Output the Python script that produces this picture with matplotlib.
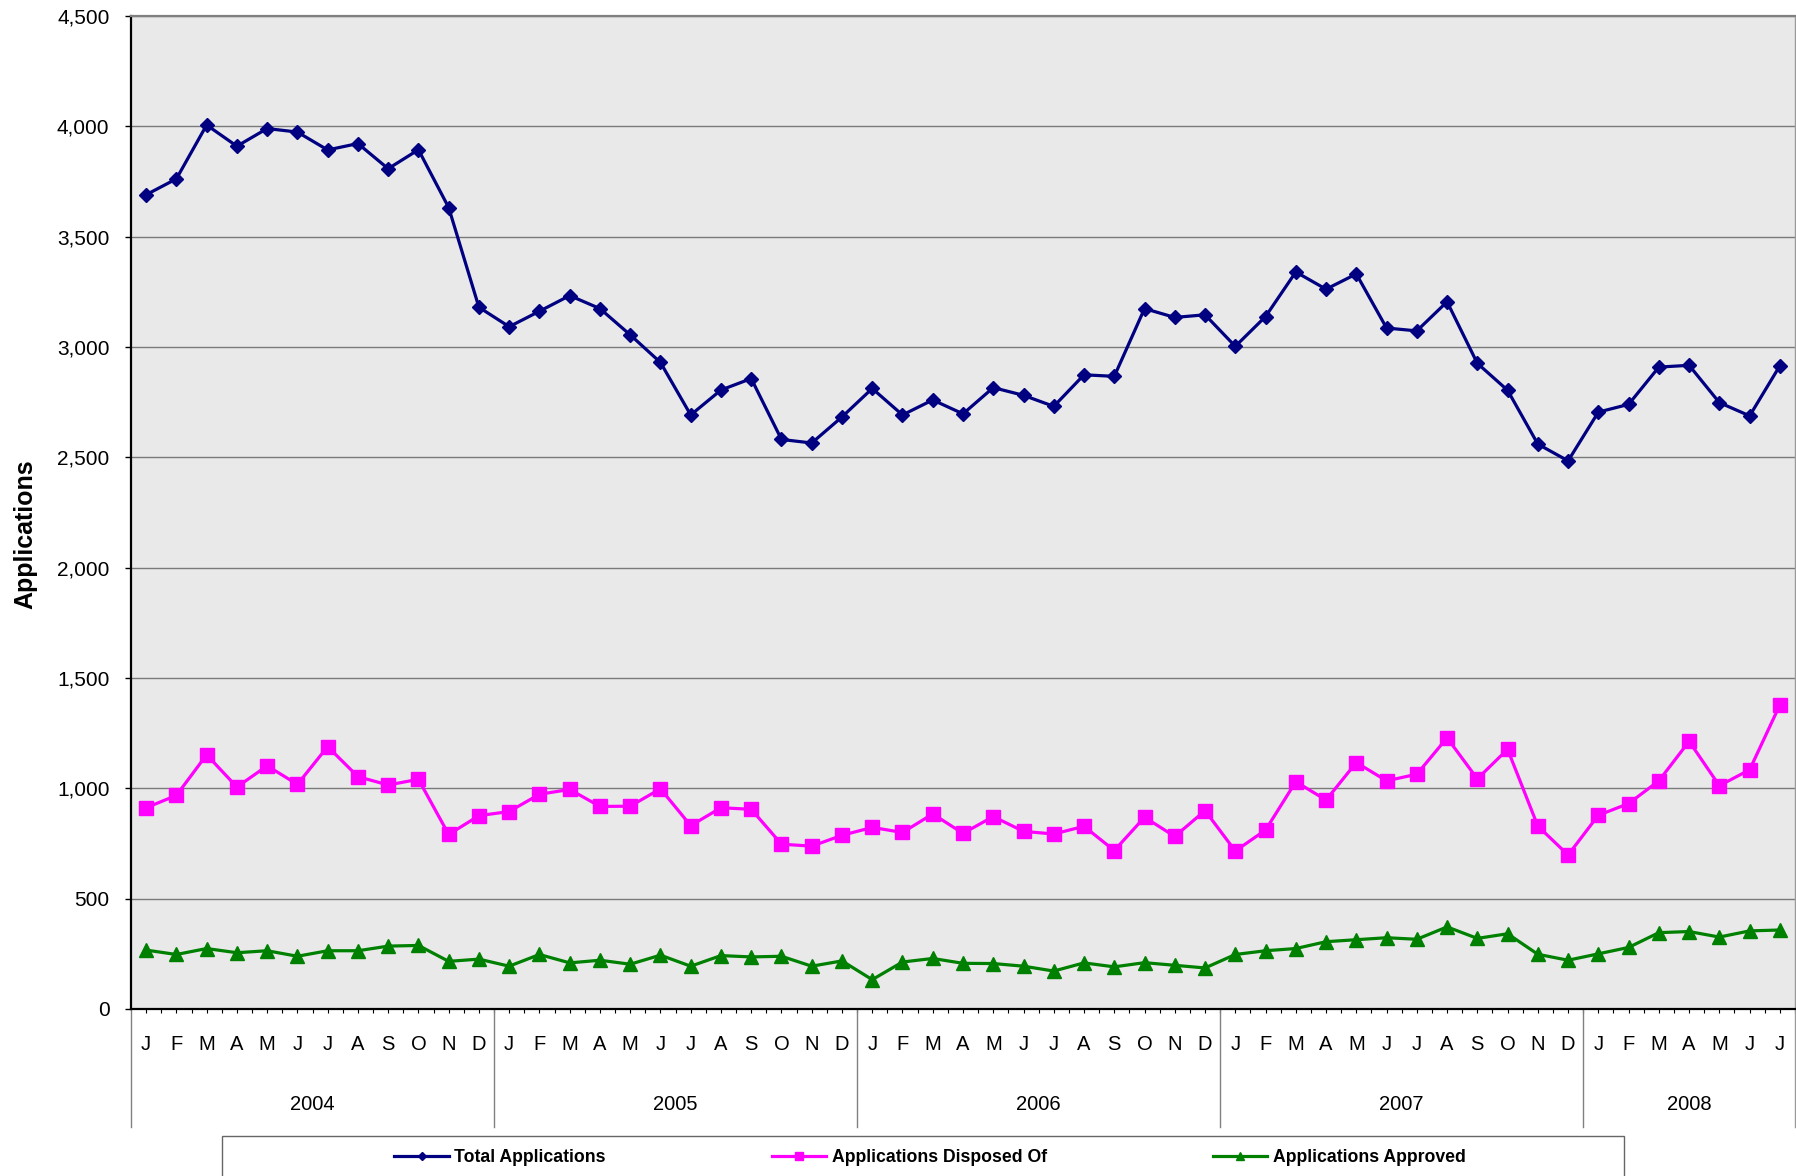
import matplotlib
matplotlib.use("Agg")
import matplotlib.pyplot as plt
from matplotlib.patches import Rectangle
from matplotlib.ticker import FuncFormatter, MultipleLocator
import numpy as np

plt.rcParams['font.family'] = ['Liberation Sans', 'DejaVu Sans']

# one letter per month, Jan 2004 .. Jul 2008
month_letters = list("JFMAMJJASOND") * 4 + list("JFMAMJJ")
years = ["2004", "2005", "2006", "2007", "2008"]
months_in_year = [12, 12, 12, 12, 7]

total_apps = [3690, 3762, 4006, 3910, 3990, 3974, 3893, 3922, 3808, 3894, 3632, 3180,
              3092, 3162, 3233, 3174, 3055, 2930, 2692, 2805, 2857, 2581, 2565, 2683,
              2812, 2692, 2760, 2697, 2816, 2781, 2731, 2874, 2867, 3174, 3134, 3146,
              3003, 3138, 3340, 3262, 3331, 3086, 3073, 3205, 2926, 2804, 2560, 2484,
              2705, 2740, 2909, 2917, 2748, 2688, 2915]

disposed = [912, 968, 1152, 1006, 1102, 1018, 1189, 1053, 1015, 1041, 791, 876,
            895, 973, 995, 918, 919, 998, 831, 912, 905, 747, 738, 787,
            823, 800, 884, 796, 872, 805, 793, 828, 718, 869, 782, 899,
            716, 811, 1030, 947, 1117, 1034, 1064, 1229, 1043, 1177, 829, 698,
            878, 931, 1034, 1213, 1012, 1084, 1378]

approved = [267, 247, 274, 255, 264, 239, 264, 264, 285, 288, 216, 226,
            194, 247, 209, 221, 203, 244, 194, 242, 236, 239, 194, 218,
            133, 213, 229, 207, 206, 194, 172, 209, 191, 210, 198, 186,
            247, 264, 274, 305, 314, 323, 316, 372, 320, 341, 248, 221,
            250, 279, 346, 351, 326, 354, 358]

x = np.arange(len(month_letters))

fig = plt.figure(figsize=(17.96, 11.76), dpi=100)
ax = fig.add_axes([131 / 1796, 1 - 1009 / 1176, (1795 - 131) / 1796, (1009 - 16) / 1176])
ax.set_facecolor('#e9e9e9')

ax.plot(x, total_apps, color='#000080', lw=2.3, marker='D', ms=7, mec='#000080',
        label='Total Applications', zorder=3)
ax.plot(x, disposed, color='#ff00ff', lw=2.3, marker='s', ms=9.5, mec='#ff00ff',
        label='Applications Disposed Of', zorder=3)
ax.plot(x, approved, color='#008000', lw=2.3, marker='^', ms=10, mec='#008000',
        label='Applications Approved', zorder=3)

ax.set_xlim(-0.5, len(x) - 0.5)
ax.set_ylim(0, 4500)
ax.yaxis.set_major_locator(MultipleLocator(500))
ax.yaxis.set_major_formatter(FuncFormatter(lambda v, p: f"{int(v):,}"))
ax.yaxis.grid(True, color='#7a7a7a', lw=1)
ax.set_axisbelow(True)

ax.spines['left'].set_color('black')
ax.spines['left'].set_linewidth(1.6)
ax.spines['bottom'].set_color('black')
ax.spines['bottom'].set_linewidth(1.6)
ax.spines['top'].set_color('#808080')
ax.spines['top'].set_linewidth(1.6)
ax.spines['right'].set_color('#9a9a9a')
ax.spines['right'].set_linewidth(1)

ax.tick_params(axis='y', direction='out', length=4.5, width=1, pad=11, labelsize=15)
ax.set_xticks(x)
ax.set_xticklabels(month_letters)
ax.set_xticks(x + 0.5, minor=True)
ax.tick_params(axis='x', which='major', direction='out', length=3, width=0.8, pad=15.5, labelsize=14.5)
ax.tick_params(axis='x', which='minor', direction='out', length=3, width=0.8)

# year separators and labels below the month letters
sep_depth = -(1127 - 1009) / (1009 - 16)
start = 0
bounds = [-0.5]
for yr, n in zip(years, months_in_year):
    centre = start + (n - 1) / 2
    ax.text(centre, -(1104 - 1009) / (1009 - 16), yr, transform=ax.get_xaxis_transform(),
            ha='center', va='center', fontsize=14.5)
    start += n
    bounds.append(start - 0.5)
for b in bounds:
    col = '#9a9a9a' if b == bounds[-1] else '#808080'
    ax.plot([b, b], [0, sep_depth], transform=ax.get_xaxis_transform(),
            color=col, lw=1, clip_on=False)

fig.text(25 / 1796, 1 - 534 / 1176, 'Applications', rotation=90, ha='center', va='center',
         fontsize=18, fontweight='bold')

# legend box
fig.patches.append(Rectangle((222 / 1796, -0.05), (1624 - 222) / 1796, 0.05 + 1 - 1136 / 1176,
                             transform=fig.transFigure, fill=False, edgecolor='#666666', lw=1))
leg = fig.legend(loc='center', bbox_to_anchor=(930 / 1796, 1 - 1158 / 1176), ncol=3,
                 frameon=False, prop={'weight': 'bold', 'size': 12.7}, markerscale=0.6,
                 handlelength=3.1, handletextpad=0.3, columnspacing=9.4)

fig.savefig('out.png', dpi=100)
